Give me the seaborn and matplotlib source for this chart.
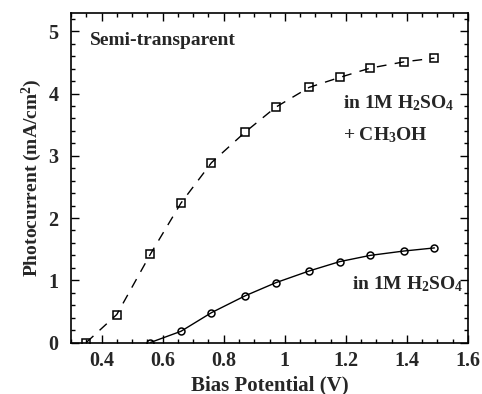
import matplotlib
matplotlib.use("Agg")
import matplotlib.pyplot as plt
import seaborn as sns
import pandas as pd
from matplotlib.ticker import MultipleLocator

# Data
bias_methanol = [0.35, 0.45, 0.56, 0.66, 0.76, 0.87, 0.97, 1.08, 1.18, 1.28, 1.39, 1.49]
current_methanol = [0.0, 0.45, 1.42, 2.24, 2.89, 3.38, 3.78, 4.10, 4.26, 4.41, 4.51, 4.57]

bias_acid = [0.56, 0.66, 0.76, 0.87, 0.97, 1.08, 1.18, 1.28, 1.39, 1.49]
current_acid = [0.0, 0.18, 0.48, 0.75, 0.96, 1.15, 1.30, 1.40, 1.47, 1.52]

x_ticks = [0.4, 0.6, 0.8, 1.0, 1.2, 1.4, 1.6]
x_tick_labels = ["0.4", "0.6", "0.8", "1", "1.2", "1.4", "1.6"]
y_ticks = [0, 1, 2, 3, 4, 5]

sns.set_style("ticks")
plt.rcParams["font.family"] = ["Liberation Serif", "DejaVu Serif"]
plt.rcParams["font.weight"] = "bold"
plt.rcParams["mathtext.fontset"] = "custom"
plt.rcParams["mathtext.rm"] = "Liberation Serif:bold"
plt.rcParams["mathtext.it"] = "Liberation Serif:bold"
plt.rcParams["mathtext.bf"] = "Liberation Serif:bold"

df_m = pd.DataFrame({"bias": bias_methanol, "current": current_methanol})
df_a = pd.DataFrame({"bias": bias_acid, "current": current_acid})

fig = plt.figure(figsize=(4.82, 3.94), dpi=100)
ax = fig.add_axes([0.1473, 0.1307, 0.8237, 0.8371])

sns.lineplot(data=df_m, x="bias", y="current", ax=ax, color="black",
             linewidth=1.0, linestyle=(0, (7, 6)), marker="s", markersize=5.5,
             markerfacecolor="none", markeredgecolor="black", markeredgewidth=1.1,
             estimator=None, sort=False)
sns.lineplot(data=df_a, x="bias", y="current", ax=ax, color="black",
             linewidth=1.0, marker="o", markersize=5,
             markerfacecolor="none", markeredgecolor="black", markeredgewidth=1.1,
             estimator=None, sort=False)

ax.set_xlim(0.3, 1.6)
ax.set_ylim(0, 5.3)
ax.set_xticks(x_ticks)
ax.set_xticklabels(x_tick_labels)
ax.set_yticks(y_ticks)
ax.xaxis.set_minor_locator(MultipleLocator(0.05))
ax.yaxis.set_minor_locator(MultipleLocator(0.2))
ax.tick_params(which="both", direction="in", top=True, right=True,
               labelsize=14.5, width=1.0, color="black")
ax.tick_params(which="major", length=6)
ax.tick_params(which="minor", length=3)
ax.tick_params(axis="x", which="major", pad=6)
ax.tick_params(axis="y", which="major", pad=9)
for lbl in ax.get_xticklabels() + ax.get_yticklabels():
    lbl.set_fontweight("bold")
for s in ax.spines.values():
    s.set_linewidth(1.2)
    s.set_color("black")

ax.set_xlabel("Bias Potential (V)", fontsize=15, fontweight="bold", labelpad=3)
ax.set_ylabel("Photocurrent (mA/cm$^{2}$)", fontsize=14, fontweight="bold", labelpad=3)

ax.text(0.047, 0.917, "Semi-transparent", transform=ax.transAxes,
        fontsize=14, fontweight="bold", ha="left", va="center")
ax.text(0.684, 0.711, "in 1M H$_2$SO$_4$", transform=ax.transAxes,
        fontsize=14, fontweight="bold", ha="left", va="baseline")
ax.text(0.684, 0.614, "+ CH$_3$OH", transform=ax.transAxes,
        fontsize=14, fontweight="bold", ha="left", va="baseline")
ax.text(0.707, 0.161, "in 1M H$_2$SO$_4$", transform=ax.transAxes,
        fontsize=14, fontweight="bold", ha="left", va="baseline")

fig.savefig("out.png", dpi=100)
